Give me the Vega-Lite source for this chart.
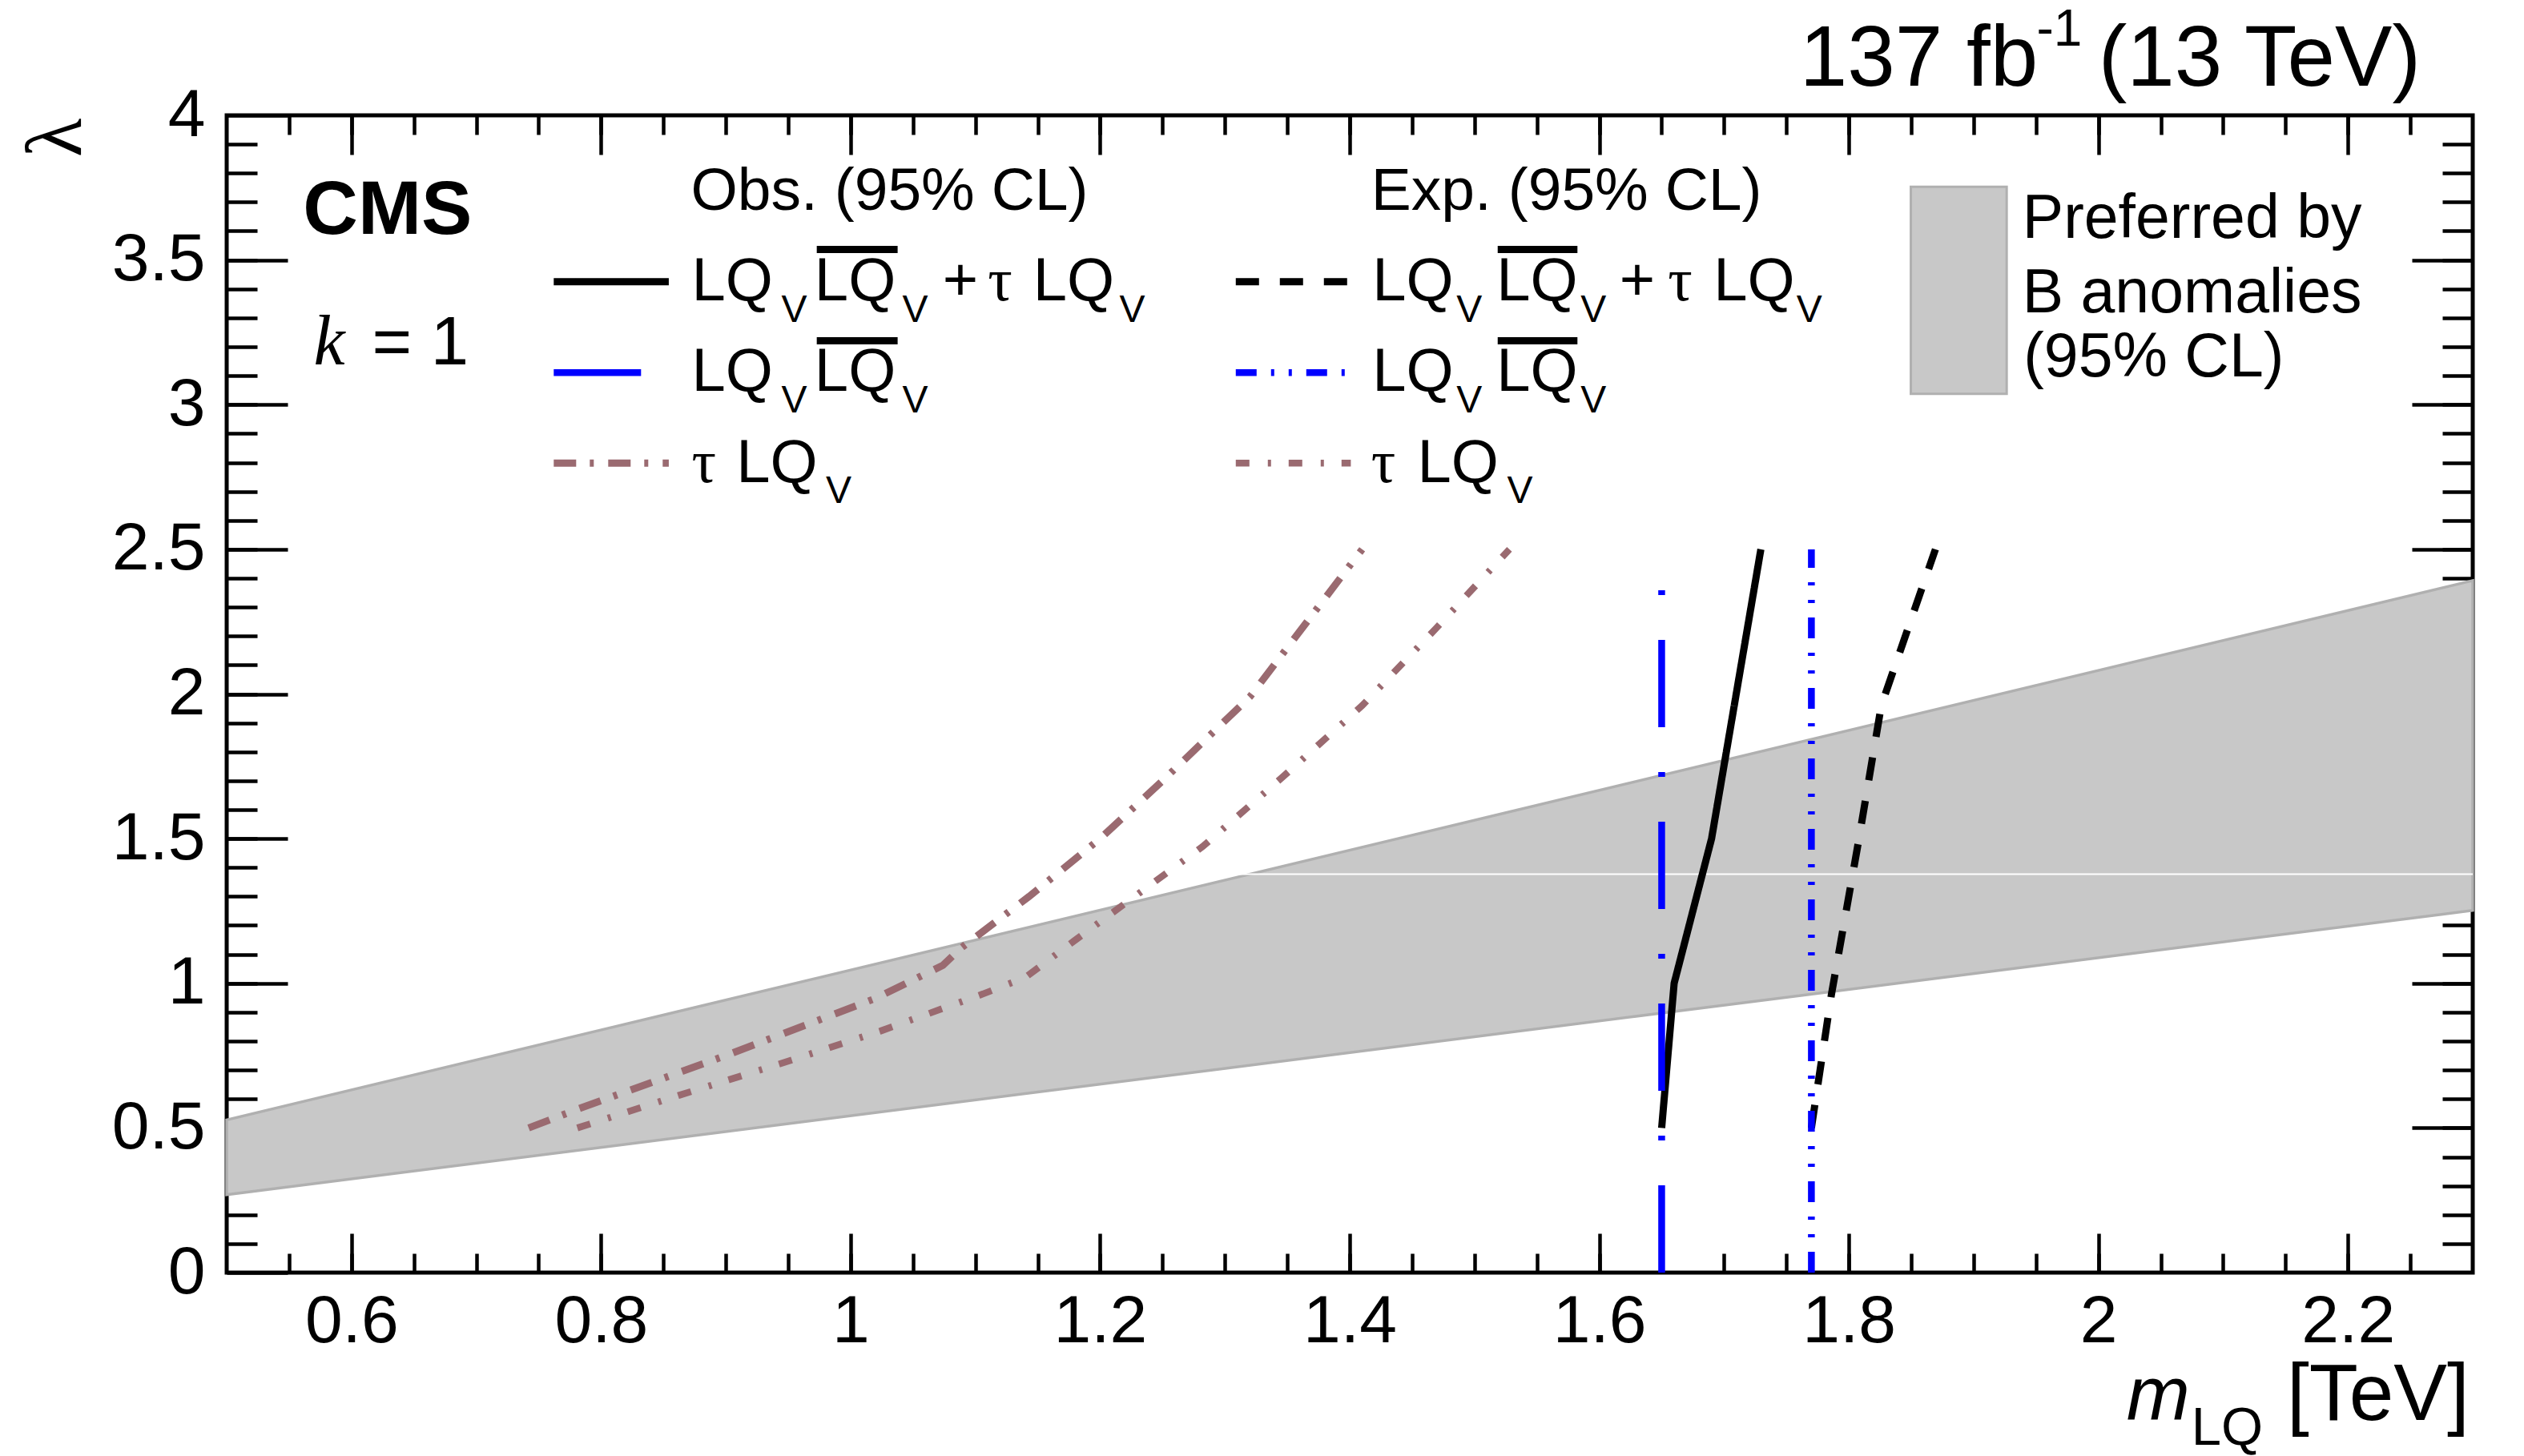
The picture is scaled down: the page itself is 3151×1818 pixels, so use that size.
{
  "$schema": "https://vega.github.io/schema/vega-lite/v6.json",
  "width": 2804,
  "height": 1445,
  "autosize": "none",
  "padding": {"left": 283, "top": 144, "right": 64, "bottom": 229},
  "background": "white",
  "config": {
    "view": {"stroke": "black", "strokeWidth": 5},
    "axis": {"domain": false, "grid": false, "title": null, "tickColor": "black", "tickWidth": 4.5, "labelFont": "Liberation Sans", "labelFontSize": 84, "labelColor": "black", "labelOverlap": false, "labelFlush": false, "labels": false}
  },
  "datasets": {
    "band": [
      {"m": 0.5, "lo": 0.269, "hi": 0.528},
      {"m": 2.3, "lo": 1.252, "hi": 2.392}
    ],
    "curves": [
      {"g": "oa", "s": "oa", "i": 0, "m": 1.650, "l": 0.5},
      {"g": "oa", "s": "oa", "i": 1, "m": 1.660, "l": 1.0},
      {"g": "oa", "s": "oa", "i": 2, "m": 1.690, "l": 1.5},
      {"g": "oa", "s": "oa", "i": 3, "m": 1.7295, "l": 2.5},
      {"g": "op", "s": "op", "i": 0, "m": 1.650, "l": 0},
      {"g": "op", "s": "op", "i": 1, "m": 1.650, "l": 2.5},
      {"g": "ot", "s": "ot", "i": 0, "m": 0.742, "l": 0.5},
      {"g": "ot", "s": "ot", "i": 1, "m": 0.780, "l": 0.563},
      {"g": "ot", "s": "ot", "i": 2, "m": 0.900, "l": 0.75},
      {"g": "ot", "s": "ot", "i": 3, "m": 1.020, "l": 0.948},
      {"g": "ot", "s": "ot", "i": 4, "m": 1.074, "l": 1.062},
      {"g": "ot", "s": "ot", "i": 5, "m": 1.088, "l": 1.12},
      {"g": "ot", "s": "ot", "i": 6, "m": 1.143, "l": 1.30},
      {"g": "ot", "s": "ot", "i": 7, "m": 1.200, "l": 1.50},
      {"g": "ot", "s": "ot", "i": 8, "m": 1.250, "l": 1.70},
      {"g": "ot", "s": "ot", "i": 9, "m": 1.320, "l": 1.99},
      {"g": "ot", "s": "ot", "i": 10, "m": 1.410, "l": 2.5},
      {"g": "ea", "s": "ea", "i": 0, "m": 1.770, "l": 0.5},
      {"g": "ea", "s": "ea", "i": 1, "m": 1.786, "l": 0.96},
      {"g": "ea", "s": "ea", "i": 2, "m": 1.8075, "l": 1.484},
      {"g": "ea", "s": "ea", "i": 3, "m": 1.826, "l": 1.96},
      {"g": "ea", "s": "ea", "i": 4, "m": 1.8694, "l": 2.5},
      {"g": "ep", "s": "ep", "i": 0, "m": 1.770, "l": 0},
      {"g": "ep", "s": "ep", "i": 1, "m": 1.770, "l": 2.5},
      {"g": "et", "s": "et", "i": 0, "m": 0.781, "l": 0.5},
      {"g": "et", "s": "et", "i": 1, "m": 0.862, "l": 0.612},
      {"g": "et", "s": "et", "i": 2, "m": 0.943, "l": 0.721},
      {"g": "et", "s": "et", "i": 3, "m": 1.024, "l": 0.835},
      {"g": "et", "s": "et", "i": 4, "m": 1.106, "l": 0.963},
      {"g": "et", "s": "et", "i": 5, "m": 1.140, "l": 1.02},
      {"g": "et", "s": "et", "i": 6, "m": 1.179, "l": 1.146},
      {"g": "et", "s": "et", "i": 7, "m": 1.221, "l": 1.279},
      {"g": "et", "s": "et", "i": 8, "m": 1.282, "l": 1.472},
      {"g": "et", "s": "et", "i": 9, "m": 1.346, "l": 1.712},
      {"g": "et", "s": "et", "i": 10, "m": 1.410, "l": 1.96},
      {"g": "et", "s": "et", "i": 11, "m": 1.469, "l": 2.226},
      {"g": "et", "s": "et", "i": 12, "m": 1.528, "l": 2.5},
      {"g": "oa_leg", "s": "oa", "i": 0, "m": 0.7621, "l": 3.425},
      {"g": "oa_leg", "s": "oa", "i": 1, "m": 0.8543, "l": 3.425},
      {"g": "op_leg", "s": "op", "i": 0, "m": 0.7621, "l": 3.111},
      {"g": "op_leg", "s": "op", "i": 1, "m": 0.8543, "l": 3.111},
      {"g": "ot_leg", "s": "ot", "i": 0, "m": 0.7621, "l": 2.798},
      {"g": "ot_leg", "s": "ot", "i": 1, "m": 0.8543, "l": 2.798},
      {"g": "ea_leg", "s": "ea", "i": 0, "m": 1.3087, "l": 3.425},
      {"g": "ea_leg", "s": "ea", "i": 1, "m": 1.3983, "l": 3.425},
      {"g": "ep_leg", "s": "ep", "i": 0, "m": 1.3087, "l": 3.111},
      {"g": "ep_leg", "s": "ep", "i": 1, "m": 1.3983, "l": 3.111},
      {"g": "et_leg", "s": "et", "i": 0, "m": 1.3087, "l": 2.798},
      {"g": "et_leg", "s": "et", "i": 1, "m": 1.4009, "l": 2.798}
    ],
    "texts": [
      {"m": 1.7606, "l": 4.1033, "t": "137 fb", "k": "hdr"},
      {"m": 2.0000, "l": 4.1033, "t": "(13 TeV)", "k": "hdr"},
      {"m": 1.9504, "l": 4.2417, "t": "-1", "k": "sup"},
      {"m": 0.6165, "l": 3.139, "t": "= 1", "k": "k1"},
      {"m": 0.8720, "l": 3.6742, "t": "Obs. (95% CL)", "k": "lh"},
      {"m": 1.4172, "l": 3.6742, "t": "Exp. (95% CL)", "k": "lh"},
      {"m": 0.8727, "l": 3.3606, "t": "LQ", "k": "lg"},
      {"m": 0.9711, "l": 3.3606, "t": "LQ", "k": "lg"},
      {"m": 1.0737, "l": 3.3606, "t": "+", "k": "lg"},
      {"m": 1.1462, "l": 3.3606, "t": "LQ", "k": "lg"},
      {"m": 0.8727, "l": 3.0469, "t": "LQ", "k": "lg"},
      {"m": 0.9711, "l": 3.0469, "t": "LQ", "k": "lg"},
      {"m": 0.9084, "l": 2.7331, "t": "LQ", "k": "lg"},
      {"m": 1.4181, "l": 3.3606, "t": "LQ", "k": "lg"},
      {"m": 1.5176, "l": 3.3606, "t": "LQ", "k": "lg"},
      {"m": 1.6162, "l": 3.3606, "t": "+", "k": "lg"},
      {"m": 1.6916, "l": 3.3606, "t": "LQ", "k": "lg"},
      {"m": 1.4181, "l": 3.0469, "t": "LQ", "k": "lg"},
      {"m": 1.5176, "l": 3.0469, "t": "LQ", "k": "lg"},
      {"m": 1.4543, "l": 2.7331, "t": "LQ", "k": "lg"},
      {"m": 0.9445, "l": 3.2867, "t": "V", "k": "sb"},
      {"m": 1.0415, "l": 3.2867, "t": "V", "k": "sb"},
      {"m": 1.2155, "l": 3.2867, "t": "V", "k": "sb"},
      {"m": 1.4856, "l": 3.2867, "t": "V", "k": "sb"},
      {"m": 1.5851, "l": 3.2867, "t": "V", "k": "sb"},
      {"m": 1.7581, "l": 3.2867, "t": "V", "k": "sb"},
      {"m": 0.9445, "l": 2.9730, "t": "V", "k": "sb"},
      {"m": 1.0415, "l": 2.9730, "t": "V", "k": "sb"},
      {"m": 1.4856, "l": 2.9730, "t": "V", "k": "sb"},
      {"m": 1.5851, "l": 2.9730, "t": "V", "k": "sb"},
      {"m": 0.9802, "l": 2.6592, "t": "V", "k": "sb"},
      {"m": 1.5261, "l": 2.6592, "t": "V", "k": "sb"},
      {"m": 1.9391, "l": 3.5773, "t": "Preferred by", "k": "bd"},
      {"m": 1.9391, "l": 3.3191, "t": "B anomalies", "k": "bd"},
      {"m": 1.9400, "l": 3.0976, "t": "(95% CL)", "k": "bd"},
      {"m": 2.1510, "l": -0.5093, "t": "[TeV]", "k": "tt"},
      {"m": 2.0745, "l": -0.5952, "t": "LQ", "k": "ts"}
    ],
    "taus": [
      {"m": 1.110, "l": 3.3606, "t": "τ"},
      {"m": 0.8726, "l": 2.7331, "t": "τ"},
      {"m": 1.655, "l": 3.3606, "t": "τ"},
      {"m": 1.4171, "l": 2.7331, "t": "τ"}
    ],
    "overlines": [
      {"m": 0.9729, "m2": 1.0377, "l": 3.5363},
      {"m": 0.9729, "m2": 1.0377, "l": 3.2208},
      {"m": 1.5186, "m2": 1.5825, "l": 3.5363},
      {"m": 1.5186, "m2": 1.5825, "l": 3.2208}
    ]
  },
  "resolve": {"axis": {"x": "independent", "y": "independent"}, "scale": {"size": "independent"}},
  "layer": [
    {
      "data": {"name": "band"},
      "mark": {"type": "area", "fill": "#c8c8c8", "stroke": "#b0b0b0", "strokeWidth": 3.5},
      "encoding": {
        "x": {"field": "m", "type": "quantitative", "scale": {"domain": [0.5, 2.3], "nice": false, "zero": false},
              "axis": {"orient": "bottom", "values": [0.6, 0.8, 1, 1.2, 1.4, 1.6, 1.8, 2, 2.2], "tickSize": -49, "labels": true, "labelPadding": 69, "labelBaseline": "top", "format": "~g"}},
        "y": {"field": "lo", "type": "quantitative", "scale": {"domain": [0, 4], "nice": false, "zero": false},
              "axis": {"orient": "left", "values": [0, 0.5, 1, 1.5, 2, 2.5, 3, 3.5, 4], "tickSize": -76, "labels": true, "labelPadding": 103, "format": "~g"}},
        "y2": {"field": "hi"}
      }
    },
    {
      "data": {"values": [{"m": 1.31, "m2": 2.3, "l": 1.377}]},
      "mark": {"type": "rule", "stroke": "white", "strokeWidth": 2},
      "encoding": {
        "x": {"field": "m", "type": "quantitative", "scale": {"domain": [0.5, 2.3], "nice": false, "zero": false}, "axis": null},
        "x2": {"field": "m2"},
        "y": {"field": "l", "type": "quantitative", "scale": {"domain": [0, 4], "nice": false, "zero": false}, "axis": null}
      }
    },
    {
      "data": {"name": "curves"},
      "mark": {"type": "line", "strokeCap": "butt", "strokeJoin": "miter"},
      "encoding": {
        "x": {"field": "m", "type": "quantitative", "scale": {"domain": [0.5, 2.3], "nice": false, "zero": false},
              "axis": {"orient": "bottom", "values": [0.55, 0.6, 0.65, 0.7, 0.75, 0.8, 0.85, 0.9, 0.95, 1, 1.05, 1.1, 1.15, 1.2, 1.25, 1.3, 1.35, 1.4, 1.45, 1.5, 1.55, 1.6, 1.65, 1.7, 1.75, 1.8, 1.85, 1.9, 1.95, 2, 2.05, 2.1, 2.15, 2.2, 2.25], "tickSize": -24}},
        "y": {"field": "l", "type": "quantitative", "scale": {"domain": [0, 4], "nice": false, "zero": false},
              "axis": {"orient": "left", "values": [0.1, 0.2, 0.3, 0.4, 0.5, 0.6, 0.7, 0.8, 0.9, 1, 1.1, 1.2, 1.3, 1.4, 1.5, 1.6, 1.7, 1.8, 1.9, 2, 2.1, 2.2, 2.3, 2.4, 2.5, 2.6, 2.7, 2.8, 2.9, 3, 3.1, 3.2, 3.3, 3.4, 3.5, 3.6, 3.7, 3.8, 3.9], "tickSize": -38}},
        "detail": {"field": "g"},
        "order": {"field": "i"},
        "color": {"field": "s", "type": "nominal", "scale": {"domain": ["oa", "op", "ot", "ea", "ep", "et"], "range": ["#000000", "#0000ff", "#9a6a70", "#000000", "#0000ff", "#9a6a70"]}, "legend": null},
        "strokeDash": {"field": "s", "type": "nominal", "scale": {"domain": ["oa", "op", "ot", "ea", "ep", "et"], "range": [[1, 0], [109, 56, 6, 56], [28, 17, 5, 18], [29, 26], [26, 18, 4, 18, 4, 18], [17, 23, 4, 22]]}, "legend": null},
        "size": {"field": "s", "type": "nominal", "scale": {"type": "ordinal", "domain": ["oa", "op", "ot", "ea", "ep", "et"], "range": [9, 8.5, 9, 9, 8.5, 8.5]}, "legend": null}
      }
    },
    {
      "data": {"values": [{"m": 1.8497, "m2": 1.9265, "l": 3.0375, "l2": 3.7528}]},
      "mark": {"type": "rect", "fill": "#c8c8c8", "stroke": "#b0b0b0", "strokeWidth": 3},
      "encoding": {
        "x": {"field": "m", "type": "quantitative", "scale": {"domain": [0.5, 2.3], "nice": false, "zero": false},
              "axis": {"orient": "top", "values": [0.6, 0.8, 1, 1.2, 1.4, 1.6, 1.8, 2, 2.2], "tickSize": -49}},
        "x2": {"field": "m2"},
        "y": {"field": "l", "type": "quantitative", "scale": {"domain": [0, 4], "nice": false, "zero": false},
              "axis": {"orient": "right", "values": [0.5, 1, 1.5, 2, 2.5, 3, 3.5], "tickSize": -76}},
        "y2": {"field": "l2"}
      }
    },
    {
      "data": {"name": "overlines"},
      "mark": {"type": "rule", "stroke": "black", "strokeWidth": 9},
      "encoding": {
        "x": {"field": "m", "type": "quantitative", "scale": {"domain": [0.5, 2.3], "nice": false, "zero": false},
              "axis": {"orient": "top", "values": [0.55, 0.6, 0.65, 0.7, 0.75, 0.8, 0.85, 0.9, 0.95, 1, 1.05, 1.1, 1.15, 1.2, 1.25, 1.3, 1.35, 1.4, 1.45, 1.5, 1.55, 1.6, 1.65, 1.7, 1.75, 1.8, 1.85, 1.9, 1.95, 2, 2.05, 2.1, 2.15, 2.2, 2.25], "tickSize": -24}},
        "x2": {"field": "m2"},
        "y": {"field": "l", "type": "quantitative", "scale": {"domain": [0, 4], "nice": false, "zero": false},
              "axis": {"orient": "right", "values": [0.1, 0.2, 0.3, 0.4, 0.5, 0.6, 0.7, 0.8, 0.9, 1, 1.1, 1.2, 1.3, 1.4, 1.5, 1.6, 1.7, 1.8, 1.9, 2, 2.1, 2.2, 2.3, 2.4, 2.5, 2.6, 2.7, 2.8, 2.9, 3, 3.1, 3.2, 3.3, 3.4, 3.5, 3.6, 3.7, 3.8, 3.9], "tickSize": -38}}
      }
    },
    {
      "data": {"name": "texts"},
      "mark": {"type": "text", "font": "Liberation Sans", "align": "left", "baseline": "alphabetic", "color": "black"},
      "encoding": {
        "x": {"field": "m", "type": "quantitative", "scale": {"domain": [0.5, 2.3], "nice": false, "zero": false}, "axis": null},
        "y": {"field": "l", "type": "quantitative", "scale": {"domain": [0, 4], "nice": false, "zero": false}, "axis": null},
        "text": {"field": "t"},
        "size": {"field": "k", "type": "nominal", "scale": {"type": "ordinal", "domain": ["hdr", "sup", "k1", "lh", "lg", "sb", "bd", "tt", "ts"], "range": [107, 64, 85, 75, 76, 48, 77, 100, 67]}, "legend": null}
      }
    },
    {
      "data": {"name": "taus"},
      "mark": {"type": "text", "font": "Liberation Serif", "fontSize": 76, "align": "left", "baseline": "alphabetic", "color": "black"},
      "encoding": {
        "x": {"field": "m", "type": "quantitative", "scale": {"domain": [0.5, 2.3], "nice": false, "zero": false}, "axis": null},
        "y": {"field": "l", "type": "quantitative", "scale": {"domain": [0, 4], "nice": false, "zero": false}, "axis": null},
        "text": {"field": "t"}
      }
    },
    {
      "data": {"values": [{"m": 0.5697, "l": 3.139, "t": "k"}]},
      "mark": {"type": "text", "font": "Liberation Serif", "fontStyle": "italic", "fontSize": 88, "align": "left", "baseline": "alphabetic", "color": "black"},
      "encoding": {
        "x": {"field": "m", "type": "quantitative", "scale": {"domain": [0.5, 2.3], "nice": false, "zero": false}, "axis": null},
        "y": {"field": "l", "type": "quantitative", "scale": {"domain": [0, 4], "nice": false, "zero": false}, "axis": null},
        "text": {"field": "t"}
      }
    },
    {
      "data": {"values": [{"m": 0.5612, "l": 3.5911, "t": "CMS"}]},
      "mark": {"type": "text", "font": "Liberation Sans", "fontWeight": "bold", "fontSize": 95, "align": "left", "baseline": "alphabetic", "color": "black"},
      "encoding": {
        "x": {"field": "m", "type": "quantitative", "scale": {"domain": [0.5, 2.3], "nice": false, "zero": false}, "axis": null},
        "y": {"field": "l", "type": "quantitative", "scale": {"domain": [0, 4], "nice": false, "zero": false}, "axis": null},
        "text": {"field": "t"}
      }
    },
    {
      "data": {"values": [{"m": 2.0225, "l": -0.5093, "t": "m"}]},
      "mark": {"type": "text", "font": "Liberation Sans", "fontStyle": "italic", "fontSize": 95, "align": "left", "baseline": "alphabetic", "color": "black"},
      "encoding": {
        "x": {"field": "m", "type": "quantitative", "scale": {"domain": [0.5, 2.3], "nice": false, "zero": false}, "axis": null},
        "y": {"field": "l", "type": "quantitative", "scale": {"domain": [0, 4], "nice": false, "zero": false}, "axis": null},
        "text": {"field": "t"}
      }
    },
    {
      "data": {"values": [{"m": 0.3636, "l": 3.9225, "t": "λ"}]},
      "mark": {"type": "text", "font": "Liberation Serif", "fontSize": 100, "align": "center", "baseline": "middle", "angle": 270, "color": "black"},
      "encoding": {
        "x": {"field": "m", "type": "quantitative", "scale": {"domain": [0.5, 2.3], "nice": false, "zero": false}, "axis": null},
        "y": {"field": "l", "type": "quantitative", "scale": {"domain": [0, 4], "nice": false, "zero": false}, "axis": null},
        "text": {"field": "t"}
      }
    }
  ]
}
